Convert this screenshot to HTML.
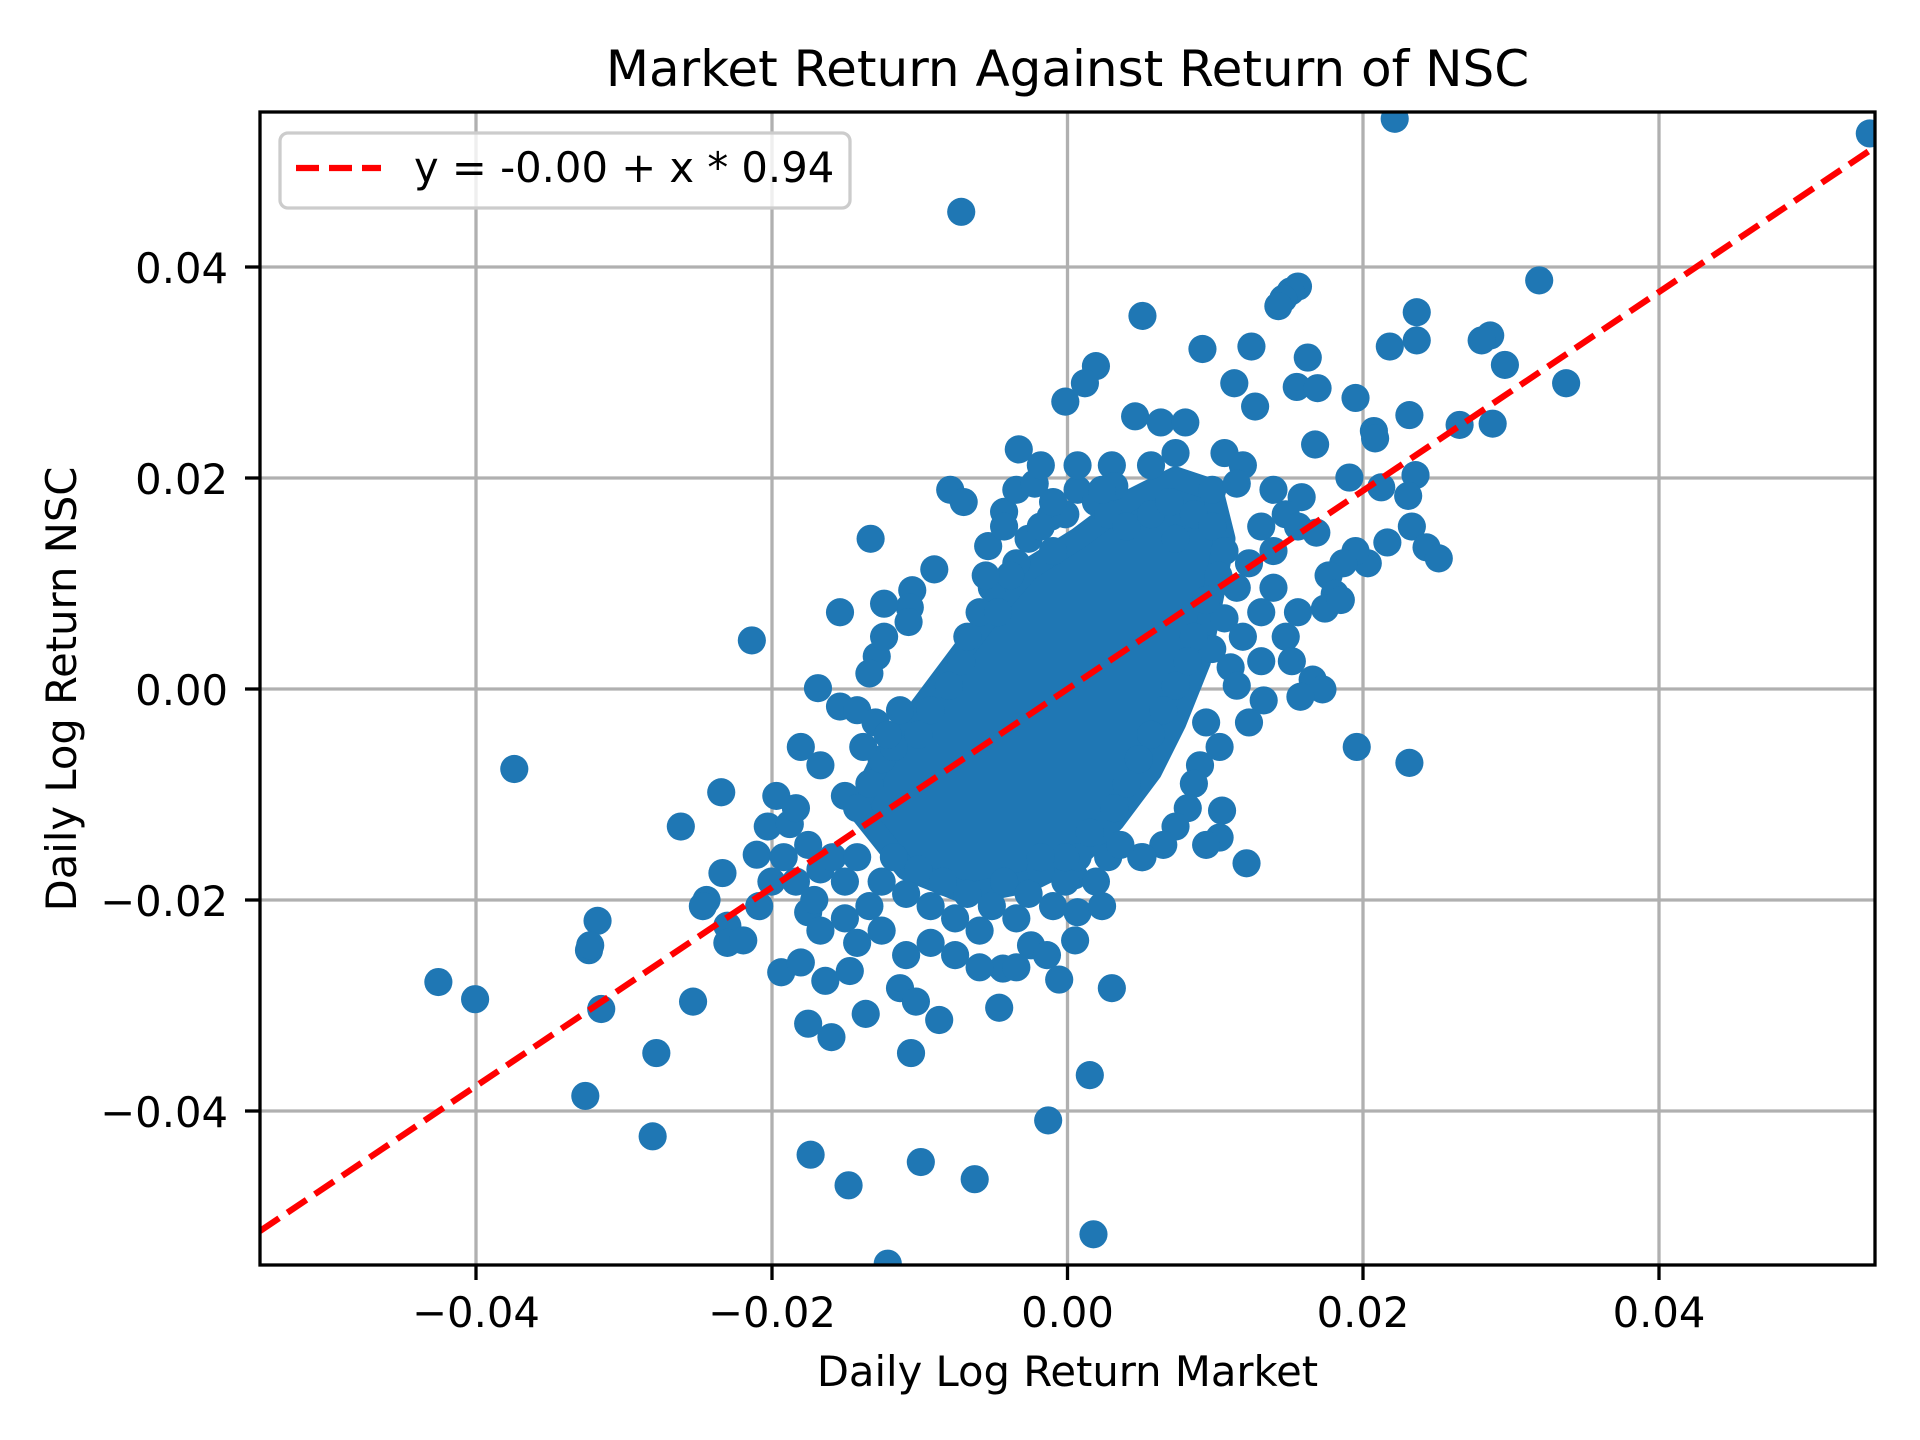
<!DOCTYPE html>
<html><head><meta charset="utf-8"><style>
html,body{margin:0;padding:0;background:#fff;}
svg{display:block;font-family:"DejaVu Sans","Liberation Sans",sans-serif;}
</style></head><body>
<svg width="1920" height="1440" viewBox="0 0 1920 1440" xmlns="http://www.w3.org/2000/svg">
<defs><clipPath id="c"><rect x="260" y="112" width="1615" height="1153"/></clipPath></defs>
<rect width="1920" height="1440" fill="#fff"/>
<g stroke="#b0b0b0" stroke-width="3.3">
<line x1="476" y1="112" x2="476" y2="1265"/><line x1="772" y1="112" x2="772" y2="1265"/>
<line x1="1067.5" y1="112" x2="1067.5" y2="1265"/><line x1="1363" y1="112" x2="1363" y2="1265"/>
<line x1="1659" y1="112" x2="1659" y2="1265"/>
<line x1="260" y1="267" x2="1875" y2="267"/><line x1="260" y1="478" x2="1875" y2="478"/>
<line x1="260" y1="689" x2="1875" y2="689"/><line x1="260" y1="900" x2="1875" y2="900"/>
<line x1="260" y1="1111" x2="1875" y2="1111"/>
</g>
<g clip-path="url(#c)">
<g transform="scale(1.2245)" fill="#1f77b4">
<polygon points="700,660 720,620 750,580 780,540 810,500 840,465 880,440 920,410 960,390 990,400 1000,440 990,490 980,540 960,590 940,630 910,670 880,700 840,720 790,730 740,710" stroke="#1f77b4" stroke-width="18" stroke-linejoin="round"/>
<g>
<circle cx="1139" cy="97" r="11.5"/><circle cx="1527" cy="109" r="11.5"/><circle cx="785" cy="173" r="11.5"/><circle cx="1257" cy="229" r="11.5"/><circle cx="1060" cy="234" r="11.5"/><circle cx="1054" cy="238" r="11.5"/><circle cx="1048" cy="244" r="11.5"/><circle cx="1044" cy="250" r="11.5"/><circle cx="933" cy="258" r="11.5"/><circle cx="1157" cy="255" r="11.5"/><circle cx="1217" cy="274" r="11.5"/><circle cx="1210" cy="278" r="11.5"/><circle cx="982" cy="285" r="11.5"/><circle cx="1022" cy="283" r="11.5"/><circle cx="1135" cy="283" r="11.5"/><circle cx="1157" cy="278" r="11.5"/><circle cx="1068" cy="292" r="11.5"/><circle cx="1229" cy="298" r="11.5"/><circle cx="895" cy="299" r="11.5"/><circle cx="886" cy="313" r="11.5"/><circle cx="1008" cy="313" r="11.5"/><circle cx="1279" cy="313" r="11.5"/><circle cx="1059" cy="316" r="11.5"/><circle cx="1076" cy="317" r="11.5"/><circle cx="870" cy="328" r="11.5"/><circle cx="1025" cy="332" r="11.5"/><circle cx="1107" cy="325" r="11.5"/><circle cx="927" cy="340" r="11.5"/><circle cx="948" cy="345" r="11.5"/><circle cx="968" cy="345" r="11.5"/><circle cx="1151" cy="339" r="11.5"/><circle cx="1192" cy="347" r="11.5"/><circle cx="1219" cy="346" r="11.5"/><circle cx="1122" cy="352" r="11.5"/><circle cx="1123" cy="358" r="11.5"/><circle cx="1074" cy="363" r="11.5"/><circle cx="832" cy="367" r="11.5"/><circle cx="908" cy="380" r="11.5"/><circle cx="1102" cy="390" r="11.5"/><circle cx="1156" cy="388" r="11.5"/><circle cx="910" cy="397" r="11.5"/><circle cx="776" cy="400" r="11.5"/><circle cx="787" cy="410" r="11.5"/><circle cx="1128" cy="398" r="11.5"/><circle cx="1150" cy="405" r="11.5"/><circle cx="1063" cy="406" r="11.5"/><circle cx="820" cy="418" r="11.5"/><circle cx="858" cy="422" r="11.5"/><circle cx="711" cy="440" r="11.5"/><circle cx="1153" cy="430" r="11.5"/><circle cx="1133" cy="443" r="11.5"/><circle cx="1165" cy="447" r="11.5"/><circle cx="1175" cy="456" r="11.5"/><circle cx="1117" cy="460" r="11.5"/><circle cx="1107" cy="450" r="11.5"/><circle cx="1097" cy="460" r="11.5"/><circle cx="1085" cy="470" r="11.5"/><circle cx="1090" cy="485" r="11.5"/><circle cx="1082" cy="497" r="11.5"/><circle cx="1095" cy="490" r="11.5"/><circle cx="763" cy="465" r="11.5"/><circle cx="807" cy="446" r="11.5"/><circle cx="745" cy="482" r="11.5"/><circle cx="743" cy="496" r="11.5"/><circle cx="722" cy="493" r="11.5"/><circle cx="686" cy="500" r="11.5"/><circle cx="742" cy="508" r="11.5"/><circle cx="614" cy="523" r="11.5"/><circle cx="716" cy="536" r="11.5"/><circle cx="722" cy="520" r="11.5"/><circle cx="710" cy="550" r="11.5"/><circle cx="1072" cy="555" r="11.5"/><circle cx="1080" cy="563" r="11.5"/><circle cx="1032" cy="572" r="11.5"/><circle cx="1062" cy="569" r="11.5"/><circle cx="668" cy="562" r="11.5"/><circle cx="686" cy="577" r="11.5"/><circle cx="700" cy="580" r="11.5"/><circle cx="654" cy="610" r="11.5"/><circle cx="670" cy="625" r="11.5"/><circle cx="1108" cy="610" r="11.5"/><circle cx="1151" cy="623" r="11.5"/><circle cx="420" cy="628" r="11.5"/><circle cx="996" cy="610" r="11.5"/><circle cx="980" cy="625" r="11.5"/><circle cx="975" cy="640" r="11.5"/><circle cx="970" cy="660" r="11.5"/><circle cx="960" cy="675" r="11.5"/><circle cx="950" cy="690" r="11.5"/><circle cx="932" cy="700" r="11.5"/>
<circle cx="940" cy="380" r="11.5"/><circle cx="960" cy="370" r="11.5"/><circle cx="1000" cy="370" r="11.5"/><circle cx="1015" cy="380" r="11.5"/><circle cx="990" cy="400" r="11.5"/><circle cx="1010" cy="395" r="11.5"/><circle cx="1040" cy="400" r="11.5"/><circle cx="1050" cy="420" r="11.5"/><circle cx="1030" cy="430" r="11.5"/><circle cx="1060" cy="430" r="11.5"/><circle cx="1075" cy="435" r="11.5"/><circle cx="1040" cy="450" r="11.5"/><circle cx="1020" cy="460" r="11.5"/><circle cx="1010" cy="480" r="11.5"/><circle cx="1040" cy="480" r="11.5"/><circle cx="1060" cy="500" r="11.5"/><circle cx="1030" cy="500" r="11.5"/><circle cx="1050" cy="520" r="11.5"/><circle cx="1015" cy="520" r="11.5"/><circle cx="1030" cy="540" r="11.5"/><circle cx="1005" cy="545" r="11.5"/><circle cx="1055" cy="540" r="11.5"/><circle cx="990" cy="530" r="11.5"/><circle cx="1000" cy="505" r="11.5"/><circle cx="1010" cy="560" r="11.5"/><circle cx="985" cy="590" r="11.5"/><circle cx="1020" cy="590" r="11.5"/>
<circle cx="589" cy="647" r="11.5"/><circle cx="634" cy="650" r="11.5"/><circle cx="556" cy="675" r="11.5"/><circle cx="627" cy="675" r="11.5"/><circle cx="645" cy="673" r="11.5"/><circle cx="618" cy="698" r="11.5"/><circle cx="590" cy="713" r="11.5"/><circle cx="577" cy="735" r="11.5"/><circle cx="574" cy="740" r="11.5"/><circle cx="594" cy="756" r="11.5"/><circle cx="594" cy="770" r="11.5"/><circle cx="607" cy="768" r="11.5"/><circle cx="488" cy="752" r="11.5"/><circle cx="481" cy="776" r="11.5"/><circle cx="482" cy="772" r="11.5"/><circle cx="358" cy="802" r="11.5"/><circle cx="388" cy="816" r="11.5"/><circle cx="491" cy="824" r="11.5"/><circle cx="566" cy="818" r="11.5"/><circle cx="638" cy="794" r="11.5"/><circle cx="654" cy="786" r="11.5"/><circle cx="674" cy="801" r="11.5"/><circle cx="694" cy="793" r="11.5"/><circle cx="536" cy="860" r="11.5"/><circle cx="478" cy="895" r="11.5"/><circle cx="533" cy="928" r="11.5"/><circle cx="662" cy="943" r="11.5"/><circle cx="693" cy="968" r="11.5"/><circle cx="752" cy="949" r="11.5"/><circle cx="796" cy="963" r="11.5"/><circle cx="893" cy="1008" r="11.5"/><circle cx="725" cy="1032" r="11.5"/><circle cx="856" cy="915" r="11.5"/><circle cx="890" cy="878" r="11.5"/><circle cx="908" cy="807" r="11.5"/><circle cx="816" cy="823" r="11.5"/><circle cx="767" cy="833" r="11.5"/><circle cx="744" cy="860" r="11.5"/><circle cx="707" cy="828" r="11.5"/><circle cx="679" cy="847" r="11.5"/><circle cx="660" cy="836" r="11.5"/><circle cx="735" cy="807" r="11.5"/><circle cx="748" cy="818" r="11.5"/><circle cx="819" cy="791" r="11.5"/><circle cx="842" cy="772" r="11.5"/><circle cx="878" cy="768" r="11.5"/><circle cx="880" cy="745" r="11.5"/><circle cx="900" cy="740" r="11.5"/><circle cx="877" cy="715" r="11.5"/><circle cx="1018" cy="705" r="11.5"/><circle cx="996" cy="684" r="11.5"/><circle cx="998" cy="662" r="11.5"/><circle cx="933" cy="700" r="11.5"/><circle cx="985" cy="690" r="11.5"/>
<circle cx="660" cy="690" r="11.5"/><circle cx="670" cy="710" r="11.5"/><circle cx="680" cy="700" r="11.5"/><circle cx="690" cy="720" r="11.5"/><circle cx="700" cy="700" r="11.5"/><circle cx="710" cy="740" r="11.5"/><circle cx="720" cy="720" r="11.5"/><circle cx="730" cy="700" r="11.5"/><circle cx="740" cy="730" r="11.5"/><circle cx="750" cy="710" r="11.5"/><circle cx="760" cy="740" r="11.5"/><circle cx="770" cy="720" r="11.5"/><circle cx="780" cy="750" r="11.5"/><circle cx="790" cy="730" r="11.5"/><circle cx="800" cy="760" r="11.5"/><circle cx="810" cy="740" r="11.5"/><circle cx="820" cy="720" r="11.5"/><circle cx="830" cy="750" r="11.5"/><circle cx="840" cy="730" r="11.5"/><circle cx="850" cy="710" r="11.5"/><circle cx="860" cy="740" r="11.5"/><circle cx="870" cy="720" r="11.5"/><circle cx="880" cy="700" r="11.5"/><circle cx="895" cy="720" r="11.5"/><circle cx="905" cy="700" r="11.5"/><circle cx="915" cy="690" r="11.5"/><circle cx="660" cy="745" r="11.5"/><circle cx="670" cy="760" r="11.5"/><circle cx="690" cy="750" r="11.5"/><circle cx="700" cy="770" r="11.5"/><circle cx="720" cy="760" r="11.5"/><circle cx="740" cy="780" r="11.5"/><circle cx="760" cy="770" r="11.5"/><circle cx="780" cy="780" r="11.5"/><circle cx="800" cy="790" r="11.5"/><circle cx="830" cy="790" r="11.5"/><circle cx="855" cy="780" r="11.5"/><circle cx="865" cy="800" r="11.5"/><circle cx="690" cy="650" r="11.5"/><circle cx="700" cy="660" r="11.5"/><circle cx="710" cy="640" r="11.5"/><circle cx="720" cy="620" r="11.5"/><circle cx="730" cy="610" r="11.5"/><circle cx="650" cy="660" r="11.5"/><circle cx="640" cy="700" r="11.5"/><circle cx="630" cy="720" r="11.5"/><circle cx="620" cy="740" r="11.5"/><circle cx="650" cy="720" r="11.5"/><circle cx="665" cy="735" r="11.5"/><circle cx="705" cy="610" r="11.5"/><circle cx="715" cy="590" r="11.5"/><circle cx="725" cy="600" r="11.5"/><circle cx="735" cy="580" r="11.5"/><circle cx="750" cy="600" r="11.5"/><circle cx="760" cy="580" r="11.5"/><circle cx="775" cy="560" r="11.5"/><circle cx="785" cy="540" r="11.5"/><circle cx="790" cy="520" r="11.5"/><circle cx="800" cy="500" r="11.5"/><circle cx="810" cy="480" r="11.5"/><circle cx="830" cy="460" r="11.5"/><circle cx="840" cy="440" r="11.5"/><circle cx="850" cy="430" r="11.5"/><circle cx="860" cy="450" r="11.5"/><circle cx="870" cy="420" r="11.5"/><circle cx="880" cy="400" r="11.5"/><circle cx="895" cy="410" r="11.5"/><circle cx="905" cy="420" r="11.5"/><circle cx="920" cy="430" r="11.5"/><circle cx="940" cy="420" r="11.5"/><circle cx="955" cy="410" r="11.5"/><circle cx="975" cy="420" r="11.5"/><circle cx="990" cy="430" r="11.5"/><circle cx="1000" cy="450" r="11.5"/><circle cx="995" cy="470" r="11.5"/><circle cx="985" cy="490" r="11.5"/><circle cx="975" cy="520" r="11.5"/><circle cx="970" cy="540" r="11.5"/><circle cx="960" cy="560" r="11.5"/><circle cx="950" cy="580" r="11.5"/><circle cx="940" cy="600" r="11.5"/><circle cx="930" cy="620" r="11.5"/><circle cx="920" cy="640" r="11.5"/><circle cx="910" cy="660" r="11.5"/><circle cx="890" cy="680" r="11.5"/><circle cx="870" cy="700" r="11.5"/><circle cx="850" cy="700" r="11.5"/>
<circle cx="825" cy="470" r="11.5"/><circle cx="815" cy="500" r="11.5"/><circle cx="805" cy="470" r="11.5"/><circle cx="820" cy="430" r="11.5"/><circle cx="830" cy="400" r="11.5"/><circle cx="845" cy="395" r="11.5"/><circle cx="860" cy="410" r="11.5"/><circle cx="900" cy="400" r="11.5"/><circle cx="960" cy="440" r="11.5"/><circle cx="850" cy="380" r="11.5"/><circle cx="880" cy="380" r="11.5"/>
</g>
</g>
<line x1="260" y1="1231" x2="1875" y2="147" stroke="#ff0000" stroke-width="6.25" stroke-dasharray="23,10"/>
</g>
<rect x="260" y="112" width="1615" height="1153" fill="none" stroke="#000" stroke-width="3.3"/>
<g stroke="#000" stroke-width="3.3">
<line x1="476" y1="1265" x2="476" y2="1280"/><line x1="772" y1="1265" x2="772" y2="1280"/><line x1="1067.5" y1="1265" x2="1067.5" y2="1280"/><line x1="1363" y1="1265" x2="1363" y2="1280"/><line x1="1659" y1="1265" x2="1659" y2="1280"/>
<line x1="245" y1="267" x2="260" y2="267"/><line x1="245" y1="478" x2="260" y2="478"/><line x1="245" y1="689" x2="260" y2="689"/><line x1="245" y1="900" x2="260" y2="900"/><line x1="245" y1="1111" x2="260" y2="1111"/>
</g>
<g font-size="41.7" fill="#000" text-anchor="middle">
<text x="476" y="1327">−0.04</text><text x="772" y="1327">−0.02</text><text x="1067.5" y="1327">0.00</text><text x="1363" y="1327">0.02</text><text x="1659" y="1327">0.04</text>
</g>
<g font-size="41.7" fill="#000" text-anchor="end">
<text x="228" y="283">0.04</text><text x="228" y="494">0.02</text><text x="228" y="705">0.00</text><text x="228" y="916">−0.02</text><text x="228" y="1127">−0.04</text>
</g>
<text x="1067.5" y="1386" font-size="41.7" text-anchor="middle">Daily Log Return Market</text>
<text transform="translate(76,689) rotate(-90)" font-size="41.7" text-anchor="middle">Daily Log Return NSC</text>
<text x="1067.5" y="86" font-size="50" text-anchor="middle">Market Return Against Return of NSC</text>
<rect x="280" y="133" width="570" height="75" rx="8" fill="#fff" fill-opacity="0.8" stroke="#cccccc" stroke-width="3.3"/>
<line x1="296" y1="168" x2="381" y2="168" stroke="#ff0000" stroke-width="6.25" stroke-dasharray="23,10"/>
<text x="414" y="182" font-size="41.7">y = -0.00 + x * 0.94</text>
</svg>
</body></html>
